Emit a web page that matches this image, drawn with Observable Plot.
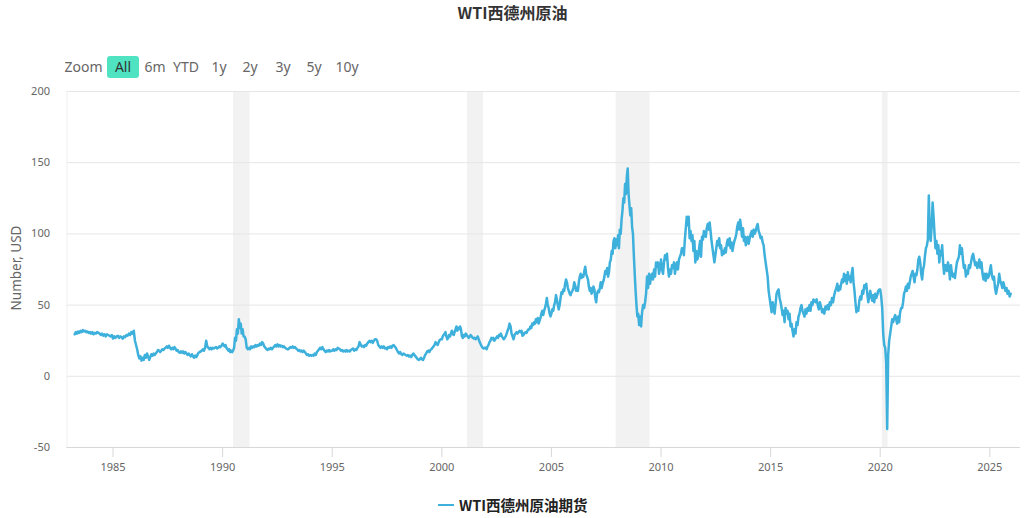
<!DOCTYPE html>
<html><head><meta charset="utf-8">
<script src="https://cdn.jsdelivr.net/npm/d3@7"></script>
<script src="https://cdn.jsdelivr.net/npm/@observablehq/plot@0.6"></script>
<style>
html,body{margin:0;padding:0;background:#fff;width:1025px;height:518px;overflow:hidden;font-family:"Noto Sans","Noto Sans CJK SC",sans-serif}
#head{position:relative;height:80px}
#title{position:absolute;left:0;width:1025px;top:0px;text-align:center;font:bold 16px "Noto Sans CJK SC","Noto Sans",sans-serif;color:#333}
.rs{position:absolute;top:56px;height:22px;line-height:22px;font-size:14px;color:#666;text-align:center;transform:translateX(-50%);white-space:nowrap}
#active{background:#50e3c2;color:#333;border-radius:3px;width:32px}
#legend{position:relative;height:38px}
#legend .sw{position:absolute;left:438px;top:24px;width:16px;height:2px;background:#3eb0dc}
#legend .tx{position:absolute;left:459px;top:14px;font:bold 14.5px "Noto Sans CJK SC","Noto Sans",sans-serif;color:#222;white-space:nowrap}
#ylab{position:absolute;left:15.5px;top:268px;transform:translate(-50%,-50%) rotate(-90deg);font-size:13.5px;color:#666;white-space:nowrap}
svg{display:block}
</style></head><body>
<div id="head"><div id="title"></div></div>
<div id="chart"></div>
<div id="legend"><div class="sw"></div><div class="tx"></div></div>
<div id="ylab"></div>
<script>
const titleText = "WTI西德州原油";
const legendText = "WTI西德州原油期货";
const yLabel = "Number, USD";
const zoomLabels = ["Zoom","All","6m","YTD","1y","2y","3y","5y","10y"];
const yTicks = [-50,0,50,100,150,200];
const xTicks = [1985,1990,1995,2000,2005,2010,2015,2020,2025];
const recessionStart = [1990.5,2001.17,2007.95,2020.1];
const recessionEnd = [1991.25,2001.9,2009.5,2020.36];
const years = [1983,1984,1985,1986,1987,1988,1989,1990,1991,1992,1993,1994,1995,1996,1997,1998,1999,2000,2001,2002,2003,2004,2005,2006,2007,2008,2009,2010,2011,2012,2013,2014,2015,2016,2017,2018,2019,2020,2021,2022,2023,2024,2025];
const yearStart = [1983.25];
const prices = [
[29.5,31,30,31.5,30.5,32,31,32.5,31.5,32,31,31.5,30.5,31],
[30,31,29.5,30.5,30,31,30.5,30,29,30,28.5,29.5,28,29.5,29,28.5,28,29],
[26.5,28,27,28,28.5,27,28,27.5,26.5,28,27.5,29,28.5,30,29,31,30,32],
[25,22,19,15,12.5,14,11,13,11.5,15,13,16,14,11.5,13.5,15.5,14.5,16,15,16],
[17,18.5,18,17,18,19,18.5,19.5,20,21,20,21.5,20,19,20,19,20.5,19.5,18,18.5],
[17,16.5,17.5,16.5,17.5,16,17,16,15,16,15,14,15.5,14,13,14.5,13.5,15,16.5,17],
[17.5,18,19,18,20,25,21,20,19,20,19,20,19.5,20,20.5,19.5,20,21,20.5,21.5],
[23,22,21,22,20,19,18,19,17,18,17,18,20,27,25,33,30,40,34,37,30,33,28],
[28,26,20,19,20,19,21,20,21,20.5,22,21,22,21.5,23,22,24,23,21,20],
[19,18.5,19.5,19,20,19,20,21,22,21,22.5,21,22,21,21.5,20.5,21,20,19.5,19],
[19,20,20.5,20,21,20,20.5,19.5,19,18,18.5,17.5,18,17,18,17,16,15,15.5,14.5],
[15,14.5,15,14.5,16,15,17,18,19,20,19,20.5,19,18,17,18,17.5,18.5,17.5,18],
[18,19,18,19,18.5,20,19.5,19,18,18.5,17.5,18,17.5,18.5,17.5,18,17.5,18.5,19,19.5],
[18,19,18.5,20,21,24,22,21,21.5,20.5,22,21.5,23,24,25,24,25,23.5,25,26],
[26,25,22,21,20,21,20,21,19.5,20,19,20.5,20,21,20,21.5,22,21,20,18.5],
[17,16,17,15.5,15,16,15.5,15,14.5,15,14,14.5,13.5,15,16,15,14,13,12,11.5],
[12,13,12,11.5,13,15,16,17.5,18,17,18.5,19,20,21,22,24,23,22,24,25.5,26],
[26,28,29,30,31,28,26,27,29,28,30,32,30,29,31,33,35,32,34,33,35,33,28,27],
[29,28,30,29,28,27,28,29,28,27,26.5,27,26,27,28,26,24,22.5,21,20,19.5,20],
[20,19,21,22,24,25,27,26,27,25,26,27,28,27,29,28.5,30,28,27,26,27,28,30],
[32,34,37,35,30,28,26,29,30,31,30,31,32,31,32,28.5,29,30.5,31,30.5,32,33],
[33,35,34,37,36,38,37,40,38,41,37,39,41,44,46,43,46,48,51,55,50,48,44,42],
[44,47,46,50,52,57,54,50,47,50,55,59,58,61,60,65,68,66,62,60,58,57,59,60],
[62,66,64,60,62,60,66,70,72,69,71,70,74,77,72,70,68,63,60,62,58,60,63,61],
[55,52,58,60,59,62,66,62,65,67,70,74,72,76,70,73,80,82,88,86,95,97,90,96],
[92,99,90,103,100,110,116,125,122,135,128,140,146,128,120,113,118,105,100,85,72,60,50,42,44],
[36,42,35,45,50,48,52,58,70,62,72,65,70,72,68,75,70,80,77,80,72,76],
[82,75,72,80,85,82,86,76,70,75,72,78,76,80,72,77,80,75,82,84,86,90],
[90,85,96,104,112,106,112,97,102,95,99,88,95,80,88,82,84,90,95,84,98,96,102],
[100,98,104,107,103,108,102,95,90,85,80,85,90,95,92,97,90,92,85,88,86,90,87],
[93,96,92,97,90,94,88,92,95,97,100,105,108,103,110,105,98,104,95,98,92,97,98],
[93,97,100,102,98,103,100,102,105,107,102,100,97,98,94,92,85,80,75,70,60,55],
[50,45,52,48,44,51,58,60,61,55,52,48,43,46,38,48,44,46,40,44,35,37],
[32,28,33,30,38,36,42,44,48,50,46,44,42,47,44,48,46,50,46,52,50,54],
[53,52,54,50,47,52,49,45,47,44,49,47,50,47,52,50,55,52,57,60],
[62,65,60,63,61,65,68,66,72,67,71,65,73,68,70,66,72,76,66,60,52,45,48],
[46,53,56,54,60,58,64,62,65,58,52,56,60,56,53,57,52,58,55,57,60,61],
[61,56,48,30,22,20,10,-37,15,25,30,35,40,38,41,43,40,37,42,38,45,48],
[48,52,58,60,63,60,65,62,66,70,72,74,70,66,72,71,75,82,84,80,72,68,75],
[78,85,90,92,96,127,100,95,106,122,112,100,90,95,86,92,80,88,85,92,80,72,78],
[78,74,80,76,68,78,72,70,72,69,75,80,82,84,92,86,90,82,76,78,70,74],
[72,78,76,80,84,86,82,78,80,76,78,82,76,80,72,68,72,67,72,69,70],
[74,78,71,68,70,62,58,62,65,72,67,65,62,66,63,60,62,58,60,56,58]
];
const series = [];
years.forEach((y,i)=>prices[i].forEach((p,j)=>{
  const s = i===0 ? yearStart[0] : y;
  series.push({t: s + (y+1-s)*j/prices[i].length, p});
}));
const recessions = recessionStart.map((s,i)=>({s,e:recessionEnd[i]}));

document.getElementById("title").textContent = titleText;
document.querySelector("#legend .tx").textContent = legendText;
document.getElementById("ylab").textContent = yLabel;
const zoomCenters = [83.5,123,155,186,219,250,283,314,347];
zoomLabels.forEach((z,i)=>{
  const d=document.createElement("div");d.className="rs";d.textContent=z;
  d.style.left=zoomCenters[i]+"px"; if(z==="All")d.id="active";
  document.getElementById("head").appendChild(d);
});
const plot = Plot.plot({
  width:1025,height:400,marginTop:11,marginBottom:33,marginLeft:66.5,marginRight:5,
  style:{fontFamily:'"Noto Sans","Noto Sans CJK SC",sans-serif',fontSize:"11px",color:"#666",background:"#fff"},
  x:{domain:[1982.9,2026.4]},
  y:{domain:[-50,200]},
  marks:[
    Plot.rect(recessions,{x1:"s",x2:"e",fill:"#f2f2f2"}),
    Plot.ruleY(yTicks,{stroke:"#e6e6e6",strokeWidth:1,strokeOpacity:1}),
    Plot.ruleX([1982.9],{stroke:"#f0f0f0",strokeWidth:1}),
    Plot.ruleY([-50],{stroke:"#d8d8d8",strokeWidth:1}),
    Plot.axisX({ticks:xTicks,tickFormat:d=>String(d),tickSize:10,tickPadding:6,label:null,stroke:"#d8d8d8",color:"#666",fontSize:11}),
    Plot.axisY({ticks:yTicks,tickFormat:d=>String(d),tickSize:0,tickPadding:17,label:null,color:"#666",fontSize:11}),
    Plot.line(series,{x:"t",y:"p",stroke:"#3eb0dc",strokeWidth:2.5,curve:"linear"})
  ]
});
document.getElementById("chart").appendChild(plot);
</script></body></html>
